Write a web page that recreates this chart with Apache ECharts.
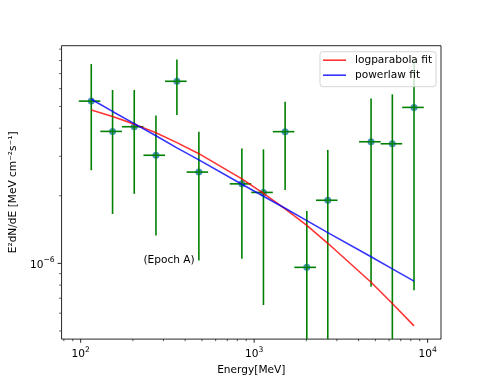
<!DOCTYPE html>
<html>
<head>
<meta charset="utf-8">
<script src="https://cdn.jsdelivr.net/npm/echarts@6/dist/echarts.min.js"></script>
<style>
html, body { margin: 0; padding: 0; background: #fff; }
#chart { width: 490px; height: 381px; }
</style>
</head>
<body>
<div id="chart"></div>
<script>
// energy bins [MeV]
const energy = [115.1, 152.7, 203.6, 271.6, 358.7, 480.2, 849.7, 1131.5, 1508.6, 2012, 2658, 4721, 6262, 8350];
const energyLo = [97.5, 129.8, 172.8, 230.1, 306.4, 407.9, 722.9, 962.5, 1281.4, 1706.0, 2271.3, 4026, 5360, 7136];
const energyHi = [129.8, 172.8, 230.1, 306.4, 407.9, 543.0, 962.5, 1281.4, 1706.0, 2271.3, 3024, 5360, 7136, 9502];
// E^2 dN/dE [MeV cm-2 s-1], lower bars of 1e-9 run off the bottom
const flux = [5.28e-6, 3.87e-6, 4.06e-6, 3.03e-6, 6.47e-6, 2.55e-6, 2.26e-6, 2.07e-6, 3.86e-6, 9.60e-7, 1.91e-6, 3.48e-6, 3.41e-6, 4.95e-6];
const fluxLo = [2.60e-6, 1.66e-6, 2.04e-6, 1.33e-6, 4.58e-6, 1.03e-6, 1.048e-6, 6.52e-7, 2.12e-6, 1e-9, 1e-9, 7.87e-7, 1e-9, 7.60e-7];
const fluxHi = [7.72e-6, 5.92e-6, 5.92e-6, 4.56e-6, 8.10e-6, 3.86e-6, 3.25e-6, 3.22e-6, 5.25e-6, 1.71e-6, 3.20e-6, 5.43e-6, 5.66e-6, 8.01e-6];
// fitted curves, read at the bin energies
const logparabolaFit = [4.82e-6, 4.51e-6, 4.17e-6, 3.82e-6, 3.45e-6, 3.08e-6, 2.38e-6, 2.05e-6, 1.75e-6, 1.476e-6, 1.229e-6, 8.24e-7, 6.63e-7, 5.27e-7];
const powerlawFit = [5.38e-6, 4.75e-6, 4.19e-6, 3.70e-6, 3.27e-6, 2.89e-6, 2.25e-6, 1.99e-6, 1.76e-6, 1.55e-6, 1.37e-6, 1.07e-6, 9.45e-7, 8.34e-7];

const xMajorTicks = [100, 1000, 10000];
const xMinorTicks = [80, 90, 200, 300, 400, 500, 600, 700, 800, 900, 2000, 3000, 4000, 5000, 6000, 7000, 8000, 9000];
const yMajorTicks = [1e-6];
const yMinorTicks = [5e-7, 6e-7, 7e-7, 8e-7, 9e-7, 2e-6, 3e-6, 4e-6, 5e-6, 6e-6, 7e-6, 8e-6, 9e-6];

const FONT = 'DejaVu Sans';
const G = { left: 61.25, top: 45.7, width: 379.75, height: 293.4 };

const chart = echarts.init(document.getElementById('chart'), null, { renderer: 'canvas' });

const powLabel = (val) => {
  const p = Math.log10(val);
  if (Math.abs(p - Math.round(p)) > 1e-6) return '';
  const e = Math.round(p);
  return '{b|10}{s|' + (e < 0 ? '\u2212' + (-e) : e) + '}';
};
const labelRich = {
  b: { fontFamily: FONT, fontSize: 10.6, color: '#000', lineHeight: 14, verticalAlign: 'bottom' },
  s: { fontFamily: FONT, fontSize: 7.6, color: '#000', lineHeight: 14, verticalAlign: 'top', padding: [0, 0, 5, 0] },
}

const errData = energy.map((e, i) => [e, flux[i], energyLo[i], energyHi[i], fluxLo[i], fluxHi[i]]);

chart.setOption({
  animation: false,
  grid: {
    left: G.left, top: G.top, width: G.width, height: G.height,
    show: true, borderColor: '#000', borderWidth: 0.85, backgroundColor: 'transparent',
  },
  legend: {
    orient: 'vertical',
    left: 320, top: 51.7,
    padding: [1, 4, 4, 3],
    itemGap: 0,
    itemWidth: 23, itemHeight: 1.6,
    icon: 'rect',
    backgroundColor: 'rgba(255,255,255,0.8)',
    borderColor: 'rgba(204,204,204,0.8)', borderWidth: 1, borderRadius: 3,
    textStyle: { fontFamily: FONT, fontSize: 10.6, color: '#000', lineHeight: 15, padding: [0, 0, 0, 4] },
    data: ['logparabola fit', 'powerlaw fit'],
  },
  xAxis: {
    type: 'log', logBase: 10, min: 77.6, max: 11946,
    name: 'Energy[MeV]', nameLocation: 'middle', nameGap: 22,
    nameTextStyle: { fontFamily: FONT, fontSize: 10.6, color: '#000' },
    axisLine: { show: false }, axisTick: { show: false }, splitLine: { show: false },
    axisLabel: { formatter: powLabel, rich: labelRich, margin: 7 },
  },
  yAxis: {
    type: 'log', logBase: 10, min: 4.6e-7, max: 9.32e-6,
    name: 'E\u00b2dN/dE [MeV cm\u207b\u00b2s\u207b\u00b9]', nameLocation: 'middle', nameGap: 34,
    nameTextStyle: { fontFamily: FONT, fontSize: 10.6, color: '#000' },
    axisLine: { show: false }, axisTick: { show: false }, splitLine: { show: false },
    axisLabel: { formatter: powLabel, rich: labelRich, margin: 7 },
  },
  series: [{
    type: 'scatter',
    data: energy.map((e, i) => [e, flux[i]]),
    symbol: 'circle', symbolSize: 7,
    itemStyle: { color: '#1f77b4' },
    z: 2, silent: true,
  }, {
    type: 'custom',
    data: errData,
    encode: { x: 0, y: 1 },
    z: 3, silent: true,
    renderItem: (params, api) => {
      const cs = params.coordSys;
      const c = api.coord([api.value(0), api.value(1)]);
      const lo = api.coord([api.value(2), api.value(4)]);
      const hi = api.coord([api.value(3), api.value(5)]);
      const yBot = Math.min(lo[1], cs.y + cs.height);
      const yTop = Math.max(hi[1], cs.y);
      const st = { stroke: 'green', lineWidth: 1.6 };
      return {
        type: 'group',
        children: [
          { type: 'line', shape: { x1: lo[0], y1: c[1], x2: hi[0], y2: c[1] }, style: st },
          { type: 'line', shape: { x1: c[0], y1: yTop, x2: c[0], y2: yBot }, style: st },
        ],
      };
    },
  }, {
    name: 'logparabola fit',
    type: 'line',
    data: energy.map((e, i) => [e, logparabolaFit[i]]),
    showSymbol: false, smooth: false,
    itemStyle: { color: 'rgba(255,0,0,0.8)' },
    lineStyle: { color: 'rgba(255,0,0,0.8)', width: 1.6 },
    z: 4, silent: true,
  }, {
    name: 'powerlaw fit',
    type: 'line',
    data: energy.map((e, i) => [e, powerlawFit[i]]),
    showSymbol: false, smooth: false,
    itemStyle: { color: 'rgba(0,0,255,0.8)' },
    lineStyle: { color: 'rgba(0,0,255,0.8)', width: 1.6 },
    z: 4, silent: true,
  }],
});

// matplotlib style log ticks, placed through the axis scales
const bottom = G.top + G.height;
const extras = [];
const tickLine = (x1, y1, x2, y2, w) => extras.push({
  type: 'line', shape: { x1, y1, x2, y2 }, style: { stroke: '#000', lineWidth: w }, silent: true,
});
xMajorTicks.forEach(v => { const x = chart.convertToPixel({ xAxisIndex: 0 }, v); tickLine(x, bottom, x, bottom + 3.7, 0.85); });
xMinorTicks.forEach(v => { const x = chart.convertToPixel({ xAxisIndex: 0 }, v); tickLine(x, bottom, x, bottom + 2.1, 0.65); });
yMajorTicks.forEach(v => { const y = chart.convertToPixel({ yAxisIndex: 0 }, v); tickLine(G.left, y, G.left - 3.7, y, 0.85); });
yMinorTicks.forEach(v => { const y = chart.convertToPixel({ yAxisIndex: 0 }, v); tickLine(G.left, y, G.left - 2.1, y, 0.65); });

const note = chart.convertToPixel({ xAxisIndex: 0, yAxisIndex: 0 }, [230, 1e-6]);
extras.push({
  type: 'text', x: note[0], y: note[1] + 2.5,
  style: { text: '(Epoch A)', fontFamily: FONT, fontSize: 10.6, fill: '#000', verticalAlign: 'bottom', align: 'left' },
  silent: true,
});

chart.setOption({ graphic: extras });
</script>
</body>
</html>
